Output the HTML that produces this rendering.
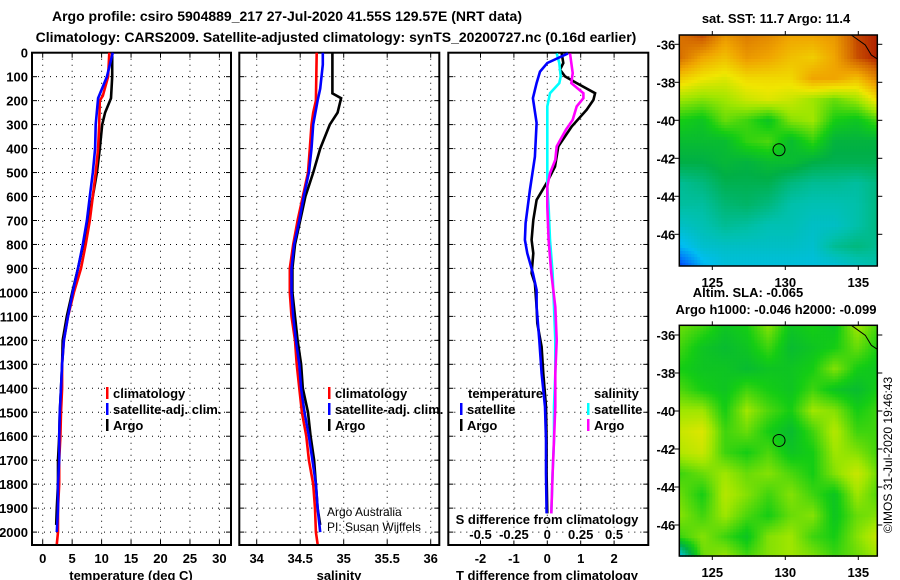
<!DOCTYPE html>
<html><head><meta charset="utf-8">
<style>
html,body{margin:0;padding:0;background:#fff;}
svg{display:block;font-family:"Liberation Sans",sans-serif;}
.b{font-weight:bold;font-size:13px;fill:#000;}
.t{font-weight:bold;font-size:14px;fill:#000;}
.n{font-size:12px;fill:#000;}
</style></head>
<body>
<svg id="fig" width="900" height="580" viewBox="0 0 900 580" xmlns="http://www.w3.org/2000/svg">
<text class="t" x="287" y="21" text-anchor="middle">Argo profile: csiro 5904889_217 27-Jul-2020 41.55S 129.57E (NRT data)</text>
<text class="t" x="336" y="42" text-anchor="middle">Climatology: CARS2009. Satellite-adjusted climatology: synTS_20200727.nc (0.16d earlier)</text>
<g id="p1"></g>
<g id="p2"></g>
<g id="p3"></g>
<g id="m1"></g>
<g id="m2"></g>
<text class="b" x="776" y="23" text-anchor="middle">sat. SST: 11.7 Argo: 11.4</text>
<text class="b" x="748" y="297" text-anchor="middle">Altim. SLA: -0.065</text>
<text class="b" x="776" y="314" text-anchor="middle">Argo h1000: -0.046 h2000: -0.099</text>
<text class="n" transform="translate(892,455) rotate(-90)" text-anchor="middle">©IMOS 31-Jul-2020 19:46:43</text>
</svg>
<script>
const NS="http://www.w3.org/2000/svg";
// ---- data ----
const depthTicks=[0,100,200,300,400,500,600,700,800,900,1000,1100,1200,1300,1400,1500,1600,1700,1800,1900,2000];
const tTicks=[0,5,10,15,20,25,30];
const sTicks=[34,34.5,35,35.5,36];
const dTTicks=[-2,-1,0,1,2];
const dSTicks=[-0.5,-0.25,0,0.25,0.5];
const dSTickLabels=["-0.5","-0.25","0","0.25","0.5"];
// temperature profiles
const argoTDepth=[0,100,190,250,300,400,500,600,700,800,900,1000,1100,1200,1300,1400,1500,1600,1700,1800,1900,1970];
const argoT=[11.8,11.8,11.6,10.6,10.1,9.7,9.2,8.5,7.7,6.9,6.0,5.0,4.1,3.4,3.3,3.1,2.9,2.8,2.6,2.6,2.4,2.3];
const climTDepth=[0,100,180,200,300,400,500,600,700,800,900,1000,1100,1200,1300,1400,1500,1600,1700,1800,1900,2000,2050];
const climT=[11.3,11.1,10.2,9.7,9.6,9.4,9.0,8.5,8.0,7.3,6.5,5.3,4.3,3.6,3.3,3.3,3.1,3.0,2.8,2.8,2.6,2.6,2.4];
const satTDepth=[0,100,190,300,400,500,600,700,800,900,1000,1100,1200,1300,1400,1500,1600,1700,1800,1900,2000];
const satT=[11.9,10.9,9.4,9.0,8.9,8.5,8.0,7.5,6.8,6.0,5.1,4.3,3.6,3.3,3.1,2.9,2.8,2.8,2.6,2.6,2.4];
// salinity profiles
const argoSDepth=[0,170,190,250,300,400,500,600,700,800,900,1000,1100,1200,1300,1400,1500,1600,1700,1800,1900,1970];
const argoS=[34.87,34.87,34.97,34.93,34.84,34.73,34.65,34.56,34.50,34.44,34.41,34.41,34.44,34.47,34.51,34.53,34.59,34.62,34.66,34.68,34.70,34.73];
const climSDepth=[0,200,250,300,400,500,600,700,800,900,1000,1100,1200,1300,1400,1500,1600,1700,1800,1900,2000,2050];
const climS=[34.69,34.68,34.65,34.63,34.61,34.59,34.53,34.47,34.42,34.38,34.38,34.40,34.44,34.46,34.49,34.52,34.57,34.60,34.65,34.67,34.68,34.70];
const satSDepth=[0,50,150,200,300,400,500,600,700,800,900,1000,1100,1200,1300,1400,1500,1600,1700,1800,1900,2000];
const satS=[34.76,34.76,34.73,34.70,34.65,34.63,34.60,34.54,34.49,34.43,34.40,34.40,34.42,34.45,34.49,34.51,34.55,34.60,34.64,34.68,34.70,34.73];
// differences
const satDTDepth=[3,43,79,127,190,293,434,573,711,781,837,920,990,1060,1199,1338,1477,1616,1755,1922];
const satDT=[0.62,0.0,-0.22,-0.32,-0.43,-0.32,-0.37,-0.52,-0.65,-0.67,-0.6,-0.43,-0.32,-0.32,-0.24,-0.17,-0.07,-0.04,-0.04,-0.02];
const argoDTDepth=[3,43,71,99,127,169,197,238,308,391,475,544,614,698,781,837,920,962,1060,1129,1227,1338,1477,1616,1755,1922];
const argoDT=[0.43,0.48,0.38,0.53,0.88,1.43,1.38,1.18,0.73,0.33,0.23,-0.02,-0.32,-0.42,-0.47,-0.42,-0.47,-0.37,-0.32,-0.3,-0.17,-0.12,-0.04,-0.02,-0.02,0.0];
const satDSDepth=[3,43,99,127,169,224,363,503,558,642,781,920,1060,1199,1338,1477,1616,1755,1922];
const satDS=[0.07,0.09,0.10,0.09,0.02,0.0,0.0,0.0,0.0,0.01,0.02,0.04,0.05,0.06,0.06,0.05,0.05,0.04,0.03];
const argoDSDepth=[3,85,127,169,190,224,280,321,391,447,503,558,642,781,920,1060,1199,1338,1477,1616,1755,1922];
const argoDS=[0.17,0.19,0.18,0.27,0.27,0.22,0.19,0.14,0.07,0.06,0.02,0.0,0.0,0.01,0.03,0.06,0.07,0.06,0.06,0.05,0.04,0.03];
// map fields (colour-scale index 0..1), rows north->south, cols west->east
const sstGrid=[
[.88,.92,.82,.86,.84,.80,.80,.82,.93,.97],
[.88,.80,.76,.82,.80,.76,.74,.80,.92,.97],
[.74,.70,.68,.72,.72,.72,.80,.80,.76,.86],
[.62,.60,.62,.66,.68,.66,.62,.58,.62,.72],
[.52,.50,.58,.55,.50,.60,.62,.52,.50,.56],
[.48,.48,.48,.54,.56,.48,.54,.46,.46,.46],
[.45,.45,.47,.46,.48,.48,.45,.44,.44,.44],
[.38,.40,.44,.44,.44,.40,.38,.38,.37,.40],
[.37,.37,.41,.42,.40,.36,.35,.35,.36,.40],
[.33,.35,.38,.37,.35,.35,.33,.33,.36,.40],
[.27,.32,.33,.33,.33,.33,.32,.38,.40,.38],
[.12,.26,.30,.30,.30,.30,.30,.30,.33,.36]];
const slaGrid=[
[.58,.55,.50,.52,.60,.50,.52,.50,.62,.55],
[.55,.50,.48,.50,.55,.48,.50,.52,.58,.52],
[.52,.50,.50,.48,.50,.50,.52,.60,.52,.50],
[.56,.52,.50,.55,.52,.50,.55,.50,.48,.52],
[.62,.62,.52,.62,.56,.52,.62,.60,.52,.55],
[.66,.68,.55,.58,.52,.48,.55,.64,.55,.55],
[.64,.66,.55,.52,.56,.50,.52,.62,.60,.55],
[.55,.58,.62,.58,.60,.56,.52,.60,.66,.58],
[.58,.52,.64,.60,.55,.60,.55,.50,.62,.56],
[.60,.55,.62,.56,.52,.58,.60,.50,.58,.60],
[.55,.60,.55,.50,.60,.62,.55,.52,.60,.66],
[.30,.58,.62,.56,.60,.62,.60,.55,.58,.62]];
const mapLonTicks=[125,130,135];
const mapLatTicks=[-36,-38,-40,-42,-44,-46];
const argoLon=129.57, argoLat=-41.55;

// ---- geometry ----
const Y0=52.7, YB=545, DEPS=0.2397;
const yD=d=>Y0+d*DEPS;
const xT=t=>42.7+t*5.89;
const xS=s=>256.7+(s-34)*87;
const xDT=t=>547.3+t*33.4;
const xDS=s=>547.3+s*133.6;

function el(tag,attrs,parent,text){const e=document.createElementNS(NS,tag);for(const k in attrs)e.setAttribute(k,attrs[k]);if(text!==undefined)e.textContent=text;parent.appendChild(e);return e;}

function panel(g,x0,x1,xticks,xfn,name){
  for(const d of depthTicks){const l=el('line',{x1:x0,x2:x1,y1:yD(d),y2:yD(d),stroke:'#000','stroke-width':1,'stroke-dasharray':'1 5'},g);
    
    el('line',{x1:x0,x2:x0+5,y1:yD(d),y2:yD(d),stroke:'#000','stroke-width':1},g);
    el('line',{x1:x1-5,x2:x1,y1:yD(d),y2:yD(d),stroke:'#000','stroke-width':1},g);}
  for(const v of xticks){const x=xfn(v);const l=el('line',{x1:x,x2:x,y1:Y0,y2:YB,stroke:'#000','stroke-width':1,'stroke-dasharray':'1 5'},g);
    
    el('line',{x1:x,x2:x,y1:Y0,y2:Y0+5,stroke:'#000'},g);el('line',{x1:x,x2:x,y1:YB-5,y2:YB,stroke:'#000'},g);}
  const r=el('rect',{x:x0,y:Y0,width:x1-x0,height:YB-Y0,fill:'none',stroke:'#000','stroke-width':2},g);
  
}
function line(g,dep,vals,xfn,color,name){
  const pts=dep.map((d,i)=>xfn(vals[i]).toFixed(1)+','+yD(d).toFixed(1)).join(' ');
  const p=el('polyline',{points:pts,fill:'none',stroke:color,'stroke-width':2.6,'stroke-linejoin':'miter'},g);
  
}
function legend(g,x,y,color,label,name){
  const m=el('rect',{x:x,y:y-11,width:2.5,height:12,fill:color},g);
  
  const t=el('text',{x:x+7,y:y,'class':'b'},g,label);
  
}
function txt(g,x,y,s,cls,anchor,name){const t=el('text',{x:x,y:y,'class':cls,'text-anchor':anchor||'start'},g,s);
  return t;}

// panel 1
const p1=document.getElementById('p1');
panel(p1,32,231,tTicks,xT,'temp');
for(const d of depthTicks)txt(p1,28,yD(d)+5,String(d),'b','end','depth-tick-label');
for(const v of tTicks)txt(p1,xT(v),563,String(v),'b','middle','temp-tick-label');
txt(p1,131,580,'temperature (deg C)','b','middle','x-axis-title-temperature');
line(p1,argoTDepth,argoT,xT,'#000','argo-temperature-line');
line(p1,climTDepth,climT,xT,'#ff0000','clim-temperature-line');
line(p1,satTDepth,satT,xT,'#0000ff','sat-temperature-line');
legend(p1,106,398,'#ff0000','climatology','legend-climatology');
legend(p1,106,414,'#0000ff','satellite-adj. clim.','legend-satellite');
legend(p1,106,430,'#000','Argo','legend-argo');

// panel 2
const p2=document.getElementById('p2');
panel(p2,239.3,439.3,sTicks,xS,'sal');
for(const v of sTicks)txt(p2,xS(v),563,String(v),'b','middle','sal-tick-label');
txt(p2,339,580,'salinity','b','middle','x-axis-title-salinity');
line(p2,argoSDepth,argoS,xS,'#000','argo-salinity-line');
line(p2,climSDepth,climS,xS,'#ff0000','clim-salinity-line');
line(p2,satSDepth,satS,xS,'#0000ff','sat-salinity-line');
legend(p2,328,398,'#ff0000','climatology','legend-climatology-sal');
legend(p2,328,414,'#0000ff','satellite-adj. clim.','legend-satellite-sal');
legend(p2,328,430,'#000','Argo','legend-argo-sal');
txt(p2,327,516,'Argo Australia','n','start','credit-argo-australia');
txt(p2,327,531,'PI: Susan Wijffels','n','start','credit-pi');

// panel 3
const p3=document.getElementById('p3');
panel(p3,448.3,648.3,dTTicks,xDT,'diff');
for(const v of dTTicks)txt(p3,xDT(v),563,String(v),'b','middle','dT-tick-label');
txt(p3,547,580,'T difference from climatology','b','middle','x-axis-title-tdiff');
line(p3,argoDTDepth,argoDT,xDT,'#000','argo-tdiff-line');
line(p3,satDSDepth,satDS,xDS,'#00ffff','sat-sdiff-line');
line(p3,argoDSDepth,argoDS,xDS,'#ff00ff','argo-sdiff-line');
line(p3,satDTDepth,satDT,xDT,'#0000ff','sat-tdiff-line');
txt(p3,468,398,'temperature','b','start','legend-temperature-heading');
txt(p3,594,398,'salinity','b','start','legend-salinity-heading');
legend(p3,460,414,'#0000ff','satellite','legend-t-satellite');
legend(p3,460,430,'#000','Argo','legend-t-argo');
legend(p3,587,414,'#00ffff','satellite','legend-s-satellite');
legend(p3,587,430,'#ff00ff','Argo','legend-s-argo');
txt(p3,547,524,'S difference from climatology','b','middle','s-axis-title');
dSTicks.forEach((v,i)=>{const t=txt(p3,xDS(v),539,dSTickLabels[i],'b','middle','dS-tick-label');t.setAttribute('style','paint-order:stroke;stroke:#fff;stroke-width:3px');});

// maps
const stops=[[0,[0,0,150]],[0.15,[0,90,255]],[0.28,[0,190,240]],[0.36,[0,192,170]],[0.45,[0,175,70]],[0.52,[20,205,20]],[0.62,[160,230,0]],[0.7,[240,230,0]],[0.8,[240,165,0]],[0.9,[210,100,0]],[1,[160,0,0]]];
function cmap(v){v=Math.max(0,Math.min(1,v));for(let i=1;i<stops.length;i++){if(v<=stops[i][0]){const a=stops[i-1],b=stops[i];const f=(v-a[0])/(b[0]-a[0]);return 'rgb('+a[1].map((c,j)=>Math.round(c+(b[1][j]-c)*f)).join(',')+')';}}return 'rgb(160,0,0)';}
function bil(grid,u,v){const R=grid.length-1,C=grid[0].length-1;const fy=v*R,fx=u*C;const r=Math.min(R-1,Math.floor(fy)),c=Math.min(C-1,Math.floor(fx));const dy=fy-r,dx=fx-c;
  return grid[r][c]*(1-dx)*(1-dy)+grid[r][c+1]*dx*(1-dy)+grid[r+1][c]*(1-dx)*dy+grid[r+1][c+1]*dx*dy;}
function drawMap(g,top,bot,lat36,grid,name,showLon){
  const L=679.3,Rr=877.3,W=Rr-L,H=bot-top,cs=3;
  const lonX=lon=>712.3+(lon-125)*14.6;const latY=lat=>lat36+(-36-lat)*19;
  const cg=el('g',{},g);
  for(let y=0;y<H;y+=cs)for(let x=0;x<W;x+=cs){
    el('rect',{x:(L+x).toFixed(1),y:(top+y).toFixed(1),width:cs+0.5,height:cs+0.5,fill:cmap(bil(grid,x/W,y/H))},cg);}
  // coastline bit
  el('polyline',{points:(Rr-26)+','+top+' '+(Rr-12)+','+(top+10)+' '+(Rr-6)+','+(top+20)+' '+Rr+','+(top+24),fill:'none',stroke:'#000','stroke-width':1},g);
  const fr=el('rect',{x:L,y:top,width:W,height:H,fill:'none',stroke:'#000','stroke-width':1.5},g);
  
  for(const lat of mapLatTicks){const y=latY(lat);el('line',{x1:L-5,x2:L,y1:y,y2:y,stroke:'#000'},g);el('line',{x1:Rr,x2:Rr+5,y1:y,y2:y,stroke:'#000'},g);
    txt(g,L-4,y+5,String(lat),'b','end',name+'-lat-label');}
  for(const lon of mapLonTicks){const x=lonX(lon);el('line',{x1:x,x2:x,y1:top-4,y2:top,stroke:'#000'},g);el('line',{x1:x,x2:x,y1:bot,y2:bot+4,stroke:'#000'},g);
    txt(g,x,bot+21,String(lon),'b','middle',name+'-lon-label');}
  const c=el('circle',{cx:lonX(argoLon),cy:latY(argoLat),r:6,fill:'none',stroke:'#000','stroke-width':1},g);
  
}
drawMap(document.getElementById('m1'),35,266,44.3,sstGrid,'sst-map',true);
drawMap(document.getElementById('m2'),325.3,556,335,slaGrid,'sla-map',true);
</script>
</body></html>
